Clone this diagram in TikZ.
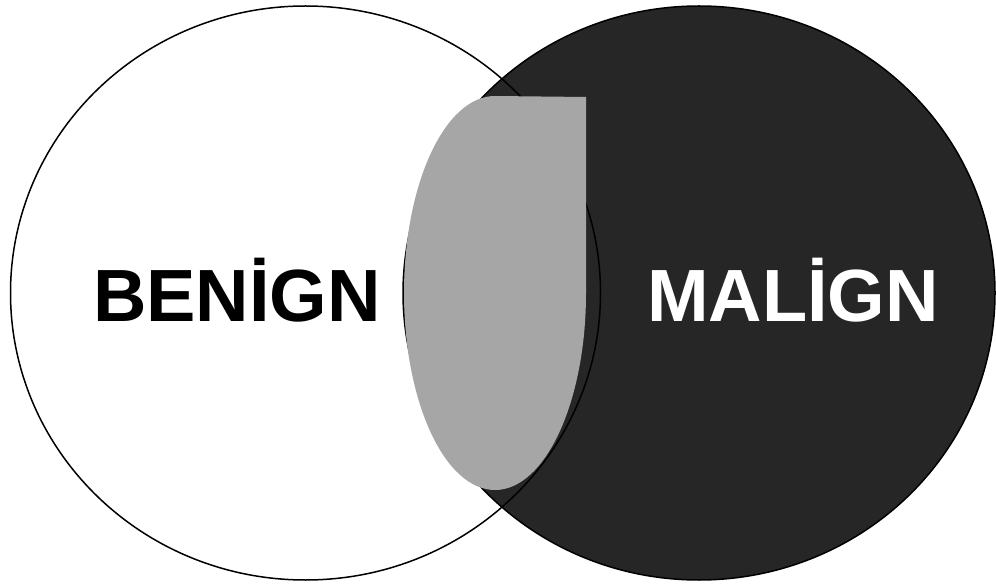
\documentclass[tikz,border=0pt]{standalone}
\usepackage{fontspec}
\setmainfont{Liberation Sans}
\definecolor{darkfill}{HTML}{262626}
\definecolor{grayfill}{HTML}{A6A6A6}
\begin{document}
\begin{tikzpicture}[x=1pt,y=-1pt,
  outline/.style={draw=black,line width=1.5pt},
  biglabel/.style={font=\fontsize{74}{80}\selectfont\bfseries, inner sep=0pt, anchor=base}]
\useasboundingbox (0,0) rectangle (996,585);
\fill[white] (305.5,293) ellipse [x radius=295, y radius=287];
\draw[outline, fill=darkfill] (699,293) ellipse [x radius=296, y radius=287];
\draw[outline] (305.5,293) ellipse [x radius=295, y radius=287];
\fill[grayfill] (586,97) -- (586,293) arc[start angle=0, end angle=270, x radius=91, y radius=197] -- cycle;
\node[biglabel] (benign) at (237,322) {BENİGN};
\node[biglabel, text=white] (malign) at (793,322) {MALİGN};
\end{tikzpicture}
\end{document}
